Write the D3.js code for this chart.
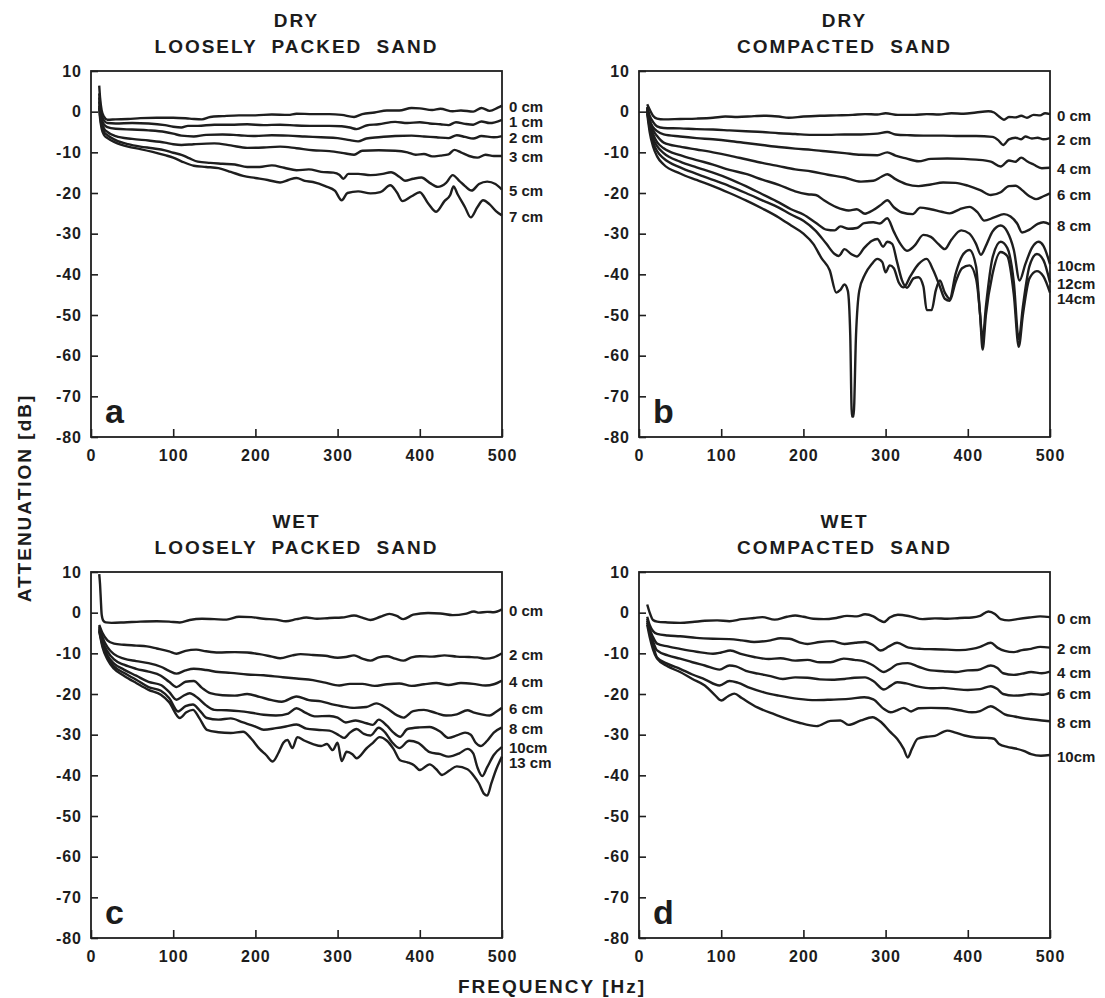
<!DOCTYPE html>
<html>
<head>
<meta charset="utf-8">
<script src="https://cdn.jsdelivr.net/npm/d3@7"></script>
<style>
    body { margin: 0; background: #fff; }
    svg text { font-family: "Liberation Sans", Arial, sans-serif; font-weight: bold; fill: #1c1c1c; }
</style>
</head>
<body>
<div id="content"></div>
<script>
// axis values
const freqTicks = [0, 100, 200, 300, 400, 500];
const dbTicks = [10, 0, -10, -20, -30, -40, -50, -60, -70, -80];

// a: dry, loosely packed sand  [frequency Hz, attenuation dB]
const dryLoose0 = [[10,6.4],[11,3.5],[13,0.3],[16,-1.3],[20,-2.0],[30,-1.9],[45,-1.8],[60,-1.6],[80,-1.5],[100,-1.5],[120,-1.7],[135,-1.9],[145,-1.3],[160,-1.1],[180,-0.9],[200,-0.9],[220,-0.7],[240,-0.8],[250,-0.5],[270,-0.6],[290,-0.6],[305,-0.8],[320,-1.3],[330,-0.6],[345,-0.2],[360,0.3],[375,0.3],[390,0.9],[400,0.8],[415,0.4],[425,0.7],[440,0.1],[450,0.3],[465,0.0],[475,0.9],[485,0.2],[495,1.0],[500,1.5]];
const dryLoose1 = [[10,4.5],[11,2],[13,-0.8],[16,-2.2],[20,-2.8],[30,-2.9],[50,-2.8],[70,-2.9],[90,-3.3],[100,-3.7],[110,-3.9],[118,-3.5],[130,-3.5],[150,-3.2],[170,-3.2],[190,-3.1],[210,-3.3],[230,-3.2],[250,-3.4],[270,-3.5],[290,-3.5],[305,-3.6],[315,-3.9],[323,-4.3],[335,-3.4],[350,-3.1],[370,-2.5],[385,-2.8],[400,-2.6],[412,-2.9],[425,-3.1],[435,-3.3],[444,-2.6],[455,-3.0],[465,-3.2],[475,-2.4],[485,-2.8],[500,-2.0]];
const dryLoose2 = [[10,3.5],[11,1],[13,-1.8],[16,-3.2],[20,-3.8],[30,-4.2],[50,-4.4],[70,-4.6],[90,-5.0],[100,-5.4],[110,-5.9],[125,-6.1],[140,-5.7],[160,-5.6],[180,-5.8],[200,-6.0],[220,-5.8],[240,-5.9],[260,-6.1],[280,-6.3],[300,-6.5],[315,-7.0],[325,-7.3],[335,-6.6],[350,-6.3],[370,-6.0],[390,-5.9],[405,-6.1],[420,-6.3],[435,-6.5],[445,-5.8],[455,-6.2],[465,-6.6],[475,-6.0],[490,-6.3],[500,-6.0]];
const dryLoose3 = [[10,2.5],[11,0],[13,-2.6],[16,-4.2],[20,-5.0],[30,-6.0],[50,-6.7],[70,-7.1],[90,-7.6],[100,-8.0],[110,-8.2],[125,-8.0],[150,-7.8],[170,-8.3],[190,-8.9],[210,-8.8],[230,-8.6],[250,-9.0],[270,-9.5],[290,-9.7],[310,-10.3],[320,-10.6],[330,-9.6],[350,-9.5],[370,-9.6],[385,-10.0],[395,-10.6],[405,-10.4],[415,-11.0],[425,-10.8],[435,-10.5],[442,-9.4],[450,-10.0],[460,-10.9],[470,-11.3],[480,-10.6],[490,-10.9],[500,-10.9]];
const dryLoose5 = [[10,1.5],[11,-1],[13,-3.5],[16,-5.0],[20,-5.8],[30,-7.0],[45,-8.0],[60,-8.6],[75,-9.0],[90,-9.5],[100,-10.1],[110,-10.6],[120,-11.5],[130,-12.3],[145,-12.6],[160,-12.8],[175,-13.0],[190,-13.6],[205,-13.6],[220,-13.2],[235,-13.8],[250,-14.4],[265,-14.2],[280,-14.8],[295,-15.0],[302,-15.5],[307,-16.5],[313,-15.3],[325,-15.3],[340,-15.6],[355,-15.3],[365,-14.9],[375,-16.0],[382,-17.0],[392,-16.5],[402,-16.2],[412,-17.5],[422,-18.5],[432,-17.5],[440,-15.6],[448,-17.0],[455,-18.3],[463,-19.4],[472,-17.8],[482,-17.2],[492,-17.8],[500,-19.2]];
const dryLoose7 = [[10,1],[11,-1.5],[13,-4.2],[16,-5.8],[20,-6.5],[30,-7.6],[45,-8.6],[60,-9.2],[75,-9.9],[90,-10.7],[100,-11.3],[110,-12.2],[125,-13.3],[140,-13.6],[155,-13.9],[170,-14.8],[185,-15.8],[200,-16.3],[215,-16.8],[230,-17.4],[240,-16.8],[250,-16.3],[260,-17.0],[270,-17.3],[285,-18.3],[297,-19.5],[305,-21.8],[312,-20.0],[325,-19.6],[340,-20.1],[352,-19.8],[364,-18.1],[372,-19.8],[379,-22.0],[390,-20.8],[400,-19.8],[410,-22.5],[420,-24.6],[430,-22.0],[437,-20.5],[441,-18.4],[446,-20.3],[455,-23.5],[462,-26.0],[470,-23.5],[477,-21.8],[485,-22.8],[493,-24.5],[500,-25.5]];
const dryLooseLabels = ["0 cm", "1 cm", "2 cm", "3 cm", "5 cm", "7 cm"];

// b: dry, compacted sand
const dryComp0 = [[10,1.8],[13,0.5],[17,-1],[22,-1.7],[30,-1.9],[50,-1.8],[70,-1.7],[90,-1.5],[105,-1.2],[120,-1.3],[140,-1.1],[155,-1.0],[170,-1.2],[182,-1.5],[200,-1.2],[220,-1.0],[240,-0.9],[260,-0.8],[275,-0.6],[290,-0.7],[300,-0.4],[315,-0.8],[335,-0.8],[350,-0.6],[365,-0.7],[380,-0.4],[395,-0.5],[410,-0.2],[425,0.1],[432,-0.2],[438,-1.2],[444,-2.0],[450,-1.3],[458,-1.4],[465,-1.0],[472,-1.5],[480,-0.8],[488,-0.9],[494,-0.4],[500,-0.6]];
const dryComp2 = [[10,1.2],[13,-1],[17,-2.5],[22,-3.6],[30,-4],[50,-4.1],[70,-4.3],[90,-4.4],[110,-4.6],[130,-4.8],[150,-5.0],[170,-5.3],[190,-5.5],[210,-5.7],[230,-5.7],[250,-5.6],[270,-5.6],[290,-5.4],[302,-5.0],[312,-5.6],[330,-5.8],[350,-5.9],[370,-5.9],[390,-6.0],[410,-6.0],[430,-6.2],[437,-7.0],[443,-8.2],[450,-6.8],[458,-6.4],[465,-6.8],[470,-6.1],[478,-6.6],[485,-6.4],[492,-6.8],[500,-6.5]];
const dryComp4 = [[10,1],[13,-2],[17,-3.8],[22,-4.8],[30,-5.6],[50,-6.1],[70,-6.5],[90,-6.8],[110,-7.2],[130,-7.7],[150,-8.2],[170,-8.7],[190,-9.1],[210,-9.4],[230,-9.8],[250,-10.2],[270,-10.6],[290,-10.7],[302,-10.0],[312,-10.8],[325,-11.5],[340,-12.2],[355,-11.6],[375,-11.5],[395,-11.6],[410,-11.8],[428,-12.3],[440,-13.5],[450,-12.0],[458,-12.3],[465,-11.3],[472,-12.2],[480,-13.0],[490,-13.9],[500,-13.8]];
const dryComp6 = [[10,0.8],[13,-2.5],[17,-4.5],[22,-6],[30,-7.6],[50,-8.6],[70,-9.3],[90,-10.0],[110,-10.8],[130,-11.7],[150,-12.6],[170,-13.4],[190,-14.2],[210,-14.7],[230,-15.5],[250,-16.2],[270,-17.2],[285,-17.0],[295,-16.0],[302,-15.4],[312,-16.6],[325,-17.8],[340,-18.3],[355,-17.9],[370,-17.4],[385,-17.5],[400,-18.2],[415,-19.3],[428,-20.5],[440,-19.8],[450,-18.3],[458,-18.2],[466,-19.3],[475,-20.8],[483,-21.5],[492,-20.8],[500,-20.1]];
const dryComp8 = [[10,0.5],[13,-3],[17,-5.5],[22,-7.5],[30,-9],[50,-10.7],[70,-11.9],[90,-13.0],[110,-14.3],[130,-15.3],[150,-16.7],[170,-18.0],[190,-19.6],[205,-20.3],[215,-20.5],[225,-21.8],[240,-23.5],[255,-24.3],[265,-24.0],[275,-25.1],[285,-24.2],[295,-22.8],[302,-21.8],[310,-23.5],[320,-24.8],[333,-25.2],[342,-23.6],[355,-24.0],[368,-24.6],[378,-25.0],[390,-24.0],[402,-23.4],[412,-24.8],[420,-26.8],[432,-26.0],[444,-25.2],[452,-25.8],[460,-27.5],[466,-29.7],[475,-29.0],[485,-27.6],[492,-27.2],[500,-27.7]];
const dryComp10 = [[10,0.3],[13,-3.5],[17,-6.5],[22,-8.5],[30,-10.2],[50,-12.3],[70,-13.7],[90,-15.0],[110,-16.5],[130,-18.3],[150,-20.3],[170,-22.3],[185,-24.0],[200,-25.3],[215,-27.3],[228,-29.0],[238,-29.2],[245,-28.2],[255,-28.8],[265,-28.6],[274,-27.4],[285,-27.2],[293,-27.5],[302,-26.2],[310,-29.5],[318,-32.5],[326,-34.2],[335,-33.0],[346,-30.3],[355,-30.8],[364,-32.5],[372,-33.8],[380,-31.5],[392,-29.2],[402,-30.0],[410,-32.5],[416,-35.2],[422,-33.0],[430,-29.5],[440,-28.0],[448,-29.5],[456,-34.0],[463,-41.5],[470,-37.5],[478,-33.5],[486,-32.0],[492,-33.0],[500,-37.5]];
const dryComp12 = [[10,0],[13,-4],[17,-7.5],[22,-9.7],[30,-11.5],[50,-13.7],[70,-15.3],[90,-16.8],[110,-18.3],[130,-20.0],[150,-21.8],[170,-23.6],[185,-25.3],[200,-26.8],[215,-29.3],[228,-32.5],[238,-35.0],[243,-35.5],[250,-33.8],[258,-35.0],[265,-35.6],[274,-33.5],[283,-31.8],[290,-31.3],[297,-33.2],[302,-32.0],[308,-32.5],[314,-37.0],[320,-41.5],[326,-43.3],[334,-41.0],[340,-40.7],[346,-43.0],[350,-48.8],[356,-48.8],[361,-44.0],[366,-41.5],[372,-44.5],[378,-46.0],[385,-40.0],[393,-35.5],[402,-34.0],[410,-38.0],[415,-50.0],[418,-56.0],[422,-48.0],[430,-36.0],[440,-32.0],[448,-33.5],[456,-42.0],[462,-56.0],[467,-48.0],[475,-38.0],[484,-35.0],[492,-36.5],[500,-42.0]];
const dryComp14 = [[10,-0.5],[13,-5],[17,-8.5],[22,-11],[30,-13],[50,-15.2],[70,-16.8],[90,-18.3],[110,-20.0],[130,-21.8],[150,-23.8],[170,-26.0],[185,-28.0],[200,-30.0],[212,-32.5],[222,-36.0],[232,-39.0],[240,-44.5],[245,-43.8],[250,-42.5],[254,-44.0],[257,-55.0],[259,-75.0],[261,-75.0],[264,-55.0],[268,-44.0],[275,-40.0],[283,-37.5],[290,-36.2],[296,-37.0],[300,-39.5],[305,-37.8],[310,-38.5],[316,-42.0],[322,-43.2],[330,-40.5],[340,-37.5],[350,-36.2],[358,-39.0],[366,-43.0],[372,-46.0],[378,-46.5],[385,-42.0],[393,-38.5],[402,-37.8],[410,-41.0],[415,-50.0],[418,-58.5],[422,-50.0],[430,-40.0],[440,-34.5],[448,-35.5],[456,-45.0],[462,-57.8],[467,-50.0],[475,-41.0],[484,-39.2],[492,-40.5],[500,-44.5]];
const dryCompLabels = ["0 cm", "2 cm", "4 cm", "6 cm", "8 cm", "10cm", "12cm", "14cm"];

// c: wet, loosely packed sand
const wetLoose0 = [[10,9.5],[11,7],[12,3],[13,-0.5],[15,-2.0],[18,-2.4],[25,-2.5],[40,-2.4],[60,-2.2],[80,-2.1],[95,-2.2],[108,-2.4],[120,-1.8],[135,-1.5],[150,-1.6],[165,-1.7],[180,-1.0],[195,-1.1],[210,-1.5],[225,-1.7],[237,-2.1],[250,-1.6],[262,-1.2],[275,-1.5],[290,-1.3],[305,-1.2],[320,-0.7],[330,-1.2],[340,-1.8],[352,-1.0],[363,-0.3],[372,-0.8],[380,-1.6],[392,-0.5],[410,-0.1],[425,-0.2],[440,-0.6],[455,-0.3],[466,0.3],[472,0.0],[482,0.2],[490,0.1],[500,0.8]];
const wetLoose2 = [[10,-3],[14,-5],[20,-6.8],[28,-7.6],[40,-7.9],[55,-8.1],[68,-8.3],[80,-8.8],[95,-9.5],[104,-10.1],[115,-9.4],[128,-9.1],[140,-9.5],[155,-9.8],[175,-9.7],[190,-9.8],[205,-10.2],[220,-10.8],[230,-11.2],[245,-10.5],[255,-10.2],[270,-10.4],[285,-10.6],[300,-11.1],[310,-10.9],[320,-10.5],[330,-11.3],[340,-11.8],[350,-11.0],[360,-10.7],[370,-11.3],[380,-11.8],[390,-11.0],[400,-10.7],[415,-10.8],[430,-10.5],[445,-10.8],[460,-10.9],[470,-11.0],[480,-11.3],[490,-11.0],[500,-10.0]];
const wetLoose4 = [[10,-3.3],[14,-6],[20,-8.5],[28,-10.2],[40,-11.3],[55,-11.9],[70,-12.4],[85,-13.3],[95,-14.3],[104,-15.0],[115,-14.2],[125,-13.8],[140,-14.1],[155,-14.6],[170,-14.8],[190,-15.2],[210,-15.4],[230,-15.8],[250,-16.2],[270,-16.6],[285,-17.2],[302,-17.9],[315,-17.5],[330,-17.5],[345,-18.0],[360,-17.6],[375,-17.4],[390,-18.0],[405,-17.6],[420,-17.3],[435,-17.8],[450,-17.3],[465,-17.5],[480,-17.9],[490,-17.6],[500,-16.7]];
const wetLoose6 = [[10,-3.6],[14,-7],[20,-9.5],[28,-11.5],[40,-12.8],[55,-13.8],[70,-14.5],[85,-15.5],[95,-17.0],[104,-18.3],[115,-17.0],[125,-16.8],[135,-18.5],[145,-19.8],[160,-20.3],[175,-20.4],[190,-20.0],[205,-20.7],[220,-21.5],[232,-21.9],[250,-20.6],[265,-21.5],[280,-21.8],[295,-22.6],[305,-23.0],[320,-23.4],[335,-23.2],[347,-22.3],[360,-23.5],[372,-25.2],[380,-25.8],[392,-24.2],[405,-23.9],[420,-24.7],[432,-25.3],[445,-25.0],[458,-24.0],[465,-24.5],[475,-25.0],[485,-25.3],[492,-24.5],[500,-23.4]];
const wetLoose8 = [[10,-4],[14,-7.5],[20,-10.5],[28,-12.5],[40,-14.0],[55,-15.5],[70,-17.0],[85,-17.8],[95,-19.5],[104,-21.4],[112,-20.5],[120,-19.8],[130,-21.0],[140,-22.8],[150,-23.9],[165,-24.0],[180,-24.2],[195,-24.6],[210,-25.1],[225,-25.3],[240,-24.8],[250,-23.5],[260,-24.5],[272,-25.5],[290,-25.4],[300,-25.8],[310,-27.0],[322,-26.5],[335,-27.2],[343,-27.6],[350,-26.3],[360,-27.8],[368,-29.5],[376,-30.5],[385,-28.6],[400,-28.2],[412,-28.1],[425,-29.3],[435,-30.8],[445,-30.2],[455,-29.5],[462,-30.0],[468,-32.0],[474,-32.8],[482,-31.5],[490,-29.5],[500,-28.2]];
const wetLoose10 = [[10,-4.3],[14,-8],[20,-11],[28,-13.2],[40,-14.8],[55,-16.5],[70,-18.3],[85,-19.2],[95,-21.0],[106,-24.3],[115,-23.0],[124,-22.6],[132,-24.0],[141,-25.9],[155,-26.3],[170,-26.0],[185,-27.0],[200,-28.0],[210,-28.8],[225,-28.4],[237,-28.0],[250,-27.5],[262,-28.5],[275,-28.8],[290,-29.0],[302,-30.2],[308,-30.8],[315,-29.5],[323,-28.6],[332,-29.8],[340,-30.2],[350,-28.3],[358,-29.5],[366,-31.8],[375,-33.3],[387,-31.5],[398,-32.0],[412,-34.3],[425,-34.8],[435,-35.4],[448,-34.6],[458,-33.5],[465,-34.6],[470,-38.0],[476,-40.2],[482,-38.0],[490,-35.0],[500,-33.0]];
const wetLoose13 = [[10,-4.6],[14,-8.5],[20,-11.5],[28,-13.8],[40,-15.5],[55,-17.3],[70,-19.0],[85,-20.2],[95,-22.0],[108,-25.9],[116,-24.5],[124,-23.9],[132,-26.0],[141,-28.8],[155,-29.4],[170,-29.6],[185,-29.3],[195,-31.0],[205,-33.5],[213,-35.0],[221,-36.6],[228,-34.5],[234,-32.0],[239,-31.3],[245,-33.3],[251,-30.6],[260,-31.5],[270,-32.3],[280,-32.8],[287,-32.3],[294,-33.8],[300,-32.0],[305,-36.5],[311,-34.2],[318,-34.8],[323,-35.8],[335,-33.4],[343,-32.0],[351,-30.6],[360,-31.5],[368,-33.5],[376,-36.3],[385,-36.8],[393,-37.5],[400,-38.7],[412,-37.3],[420,-38.5],[427,-39.9],[436,-38.8],[445,-37.8],[458,-38.5],[466,-40.2],[472,-42.0],[478,-44.5],[482,-45.0],[487,-42.0],[493,-38.5],[500,-35.4]];
const wetLooseLabels = ["0 cm", "2 cm", "4 cm", "6 cm", "8 cm", "10cm", "13 cm"];

// d: wet, compacted sand
const wetComp0 = [[10,2],[13,0],[17,-1.8],[22,-2.2],[35,-2.4],[50,-2.5],[65,-2.3],[80,-2.0],[95,-1.9],[110,-2.1],[125,-1.6],[140,-1.3],[150,-1.1],[165,-1.7],[180,-1.0],[190,-0.7],[200,-1.0],[212,-1.5],[225,-1.6],[240,-1.3],[253,-0.8],[265,-0.9],[275,-0.4],[285,-0.9],[293,-1.9],[298,-2.3],[305,-1.2],[315,-0.5],[330,-0.9],[345,-1.6],[360,-1.4],[375,-1.5],[390,-1.3],[405,-1.2],[415,-0.8],[425,0.3],[433,-0.3],[440,-1.6],[450,-1.9],[460,-1.6],[475,-1.2],[488,-0.9],[500,-1.1]];
const wetComp2 = [[10,-1],[13,-3],[17,-4.5],[22,-5.2],[35,-5.6],[50,-5.8],[70,-6.2],[90,-6.4],[110,-6.5],[125,-6.8],[140,-7.2],[160,-6.8],[172,-6.3],[183,-6.4],[195,-7.3],[205,-7.7],[220,-7.2],[235,-7.0],[250,-7.7],[263,-7.4],[275,-7.2],[285,-8.0],[294,-9.3],[304,-8.3],[314,-7.4],[328,-8.6],[343,-8.9],[360,-9.0],[375,-9.1],[390,-9.2],[405,-8.9],[415,-8.4],[428,-7.4],[436,-8.6],[445,-9.4],[456,-9.7],[466,-9.2],[477,-8.9],[488,-8.4],[500,-8.6]];
const wetComp4 = [[10,-1.5],[13,-4],[17,-6],[22,-7.6],[35,-8.3],[50,-8.9],[70,-9.6],[90,-10.1],[100,-9.8],[111,-9.3],[125,-10.2],[140,-10.9],[158,-11.4],[172,-11.2],[190,-11.8],[205,-11.6],[220,-12.2],[233,-12.2],[249,-11.3],[262,-11.6],[274,-12.0],[285,-13.0],[298,-14.6],[306,-13.8],[314,-12.7],[327,-12.4],[340,-13.3],[355,-14.2],[370,-14.4],[385,-14.6],[400,-14.2],[412,-14.1],[428,-13.0],[436,-13.6],[443,-14.9],[456,-15.3],[466,-15.0],[477,-14.6],[490,-14.9],[500,-14.5]];
const wetComp6 = [[10,-2],[13,-4.5],[17,-7],[22,-9.3],[35,-10.5],[50,-11.3],[65,-12.2],[80,-13.0],[98,-14.0],[110,-13.0],[118,-13.2],[130,-14.3],[145,-15.0],[160,-15.6],[175,-16.3],[190,-15.9],[205,-16.0],[220,-16.4],[235,-16.5],[250,-16.3],[262,-16.0],[275,-15.9],[285,-16.8],[298,-18.9],[306,-18.0],[314,-17.1],[325,-17.4],[340,-18.2],[355,-18.6],[370,-18.5],[385,-18.8],[400,-19.0],[415,-18.8],[428,-18.1],[436,-18.8],[443,-20.0],[456,-20.4],[466,-20.3],[477,-20.0],[490,-20.2],[500,-19.7]];
const wetComp8 = [[10,-2.5],[13,-5],[17,-8],[22,-11],[35,-12.6],[50,-13.8],[65,-15.2],[80,-16.4],[98,-17.9],[110,-16.8],[120,-17.2],[135,-18.5],[152,-19.6],[170,-20.4],[194,-21.2],[215,-21.5],[233,-21.4],[255,-21.2],[274,-20.8],[285,-21.3],[298,-23.7],[306,-24.5],[314,-24.0],[322,-23.4],[331,-24.3],[340,-23.5],[355,-23.4],[375,-23.5],[390,-24.0],[405,-24.5],[415,-24.2],[428,-23.0],[436,-23.8],[445,-25.0],[456,-25.5],[466,-25.9],[477,-26.2],[490,-26.5],[500,-26.7]];
const wetComp10 = [[10,-3],[13,-6],[17,-9],[22,-11.3],[35,-13.2],[50,-14.6],[65,-16.3],[80,-17.9],[92,-20.2],[100,-21.6],[108,-20.6],[116,-19.9],[125,-21.0],[144,-23.3],[165,-25.0],[194,-27.0],[216,-27.9],[233,-26.6],[245,-26.5],[255,-27.6],[270,-26.5],[284,-25.7],[295,-27.0],[305,-29.2],[314,-31.0],[322,-33.5],[327,-35.6],[332,-33.5],[339,-31.0],[350,-30.5],[360,-30.3],[375,-29.0],[385,-29.5],[396,-30.2],[410,-30.7],[424,-30.8],[432,-31.0],[438,-32.3],[448,-33.0],[458,-33.4],[468,-34.0],[477,-34.8],[489,-35.2],[500,-35.0]];
const wetCompLabels = ["0 cm", "2 cm", "4 cm", "6 cm", "8 cm", "10cm"];

const panels = [
    { left: 91, top: 71, title: ["DRY", "LOOSELY PACKED SAND"], letter: "a",
      series: [dryLoose0, dryLoose1, dryLoose2, dryLoose3, dryLoose5, dryLoose7], labels: dryLooseLabels },
    { left: 639, top: 71, title: ["DRY", "COMPACTED SAND"], letter: "b",
      series: [dryComp0, dryComp2, dryComp4, dryComp6, dryComp8, dryComp10, dryComp12, dryComp14], labels: dryCompLabels },
    { left: 91, top: 572, title: ["WET", "LOOSELY PACKED SAND"], letter: "c",
      series: [wetLoose0, wetLoose2, wetLoose4, wetLoose6, wetLoose8, wetLoose10, wetLoose13], labels: wetLooseLabels },
    { left: 639, top: 572, title: ["WET", "COMPACTED SAND"], letter: "d",
      series: [wetComp0, wetComp2, wetComp4, wetComp6, wetComp8, wetComp10], labels: wetCompLabels }
];
const plotW = 411, plotH = 366;
const ink = "#1e1e1e";

const svg = d3.select("#content")
    .append("svg")
    .attr("width", 1105)
    .attr("height", 998);

const fmt = d => d < 0 ? "-" + Math.abs(d) : String(d);

panels.forEach(function (p) {
    const x = d3.scaleLinear().domain([0, 500]).range([p.left, p.left + plotW]);
    const y = d3.scaleLinear().domain([-80, 10]).range([p.top + plotH, p.top]);
    const g = svg.append("g");

    const line = d3.line()
        .x(d => x(d[0]))
        .y(d => y(d[1]))
        .curve(d3.curveMonotoneX);

    g.selectAll("path.curve")
        .data(p.series)
        .enter()
        .append("path")
        .attr("class", "curve")
        .attr("d", line)
        .attr("fill", "none")
        .attr("stroke", ink)
        .attr("stroke-width", 2.4)
        .attr("stroke-linejoin", "round");

    g.append("rect")
        .attr("x", p.left)
        .attr("y", p.top)
        .attr("width", plotW)
        .attr("height", plotH)
        .attr("fill", "none")
        .attr("stroke", ink)
        .attr("stroke-width", 1.8);

    const yAxis = g.append("g")
        .attr("transform", "translate(" + p.left + ",0)")
        .call(d3.axisLeft(y).tickValues(dbTicks).tickSize(-7).tickPadding(9).tickFormat(fmt));
    const xAxis = g.append("g")
        .attr("transform", "translate(0," + (p.top + plotH) + ")")
        .call(d3.axisBottom(x).tickValues(freqTicks).tickSize(-8).tickPadding(13).tickFormat(fmt));

    [yAxis, xAxis].forEach(function (a) {
        a.select(".domain").remove();
        a.selectAll(".tick line").attr("stroke", ink).attr("stroke-width", 1.6);
        a.selectAll(".tick text")
            .style("font-size", "16px")
            .style("letter-spacing", "1px");
    });

    // titles above each panel
    const cx = p.left + plotW / 2;
    g.append("text").attr("x", cx).attr("y", p.top - 44)
        .attr("text-anchor", "middle")
        .style("font-size", "19px").style("letter-spacing", "2px")
        .text(p.title[0]);
    g.append("text").attr("x", cx).attr("y", p.top - 18)
        .attr("text-anchor", "middle")
        .style("font-size", "19px").style("letter-spacing", "2px").style("word-spacing", "7px")
        .text(p.title[1]);

    // panel letter
    g.append("text").attr("x", p.left + 14).attr("y", p.top + plotH - 14)
        .style("font-size", "34px")
        .text(p.letter);

    // series labels at the right end, pushed apart where crowded
    const ys = p.series.map(s => y(s[s.length - 1][1]) + 1);
    for (let i = 1; i < ys.length; ++i) {
        if (ys[i] < ys[i - 1] + 15) ys[i] = ys[i - 1] + 15;
    }
    g.selectAll("text.lab")
        .data(p.labels)
        .enter()
        .append("text")
        .attr("class", "lab")
        .attr("x", p.left + plotW + 7)
        .attr("y", (d, i) => ys[i])
        .attr("dominant-baseline", "central")
        .style("font-size", "15px")
        .text(d => d);
});

svg.append("text")
    .attr("transform", "translate(24,498) rotate(-90)")
    .attr("text-anchor", "middle")
    .attr("dominant-baseline", "central")
    .style("font-size", "19px").style("letter-spacing", "2px")
    .text("ATTENUATION [dB]");

svg.append("text")
    .attr("x", 552)
    .attr("y", 993)
    .attr("text-anchor", "middle")
    .style("font-size", "19px").style("letter-spacing", "2px")
    .text("FREQUENCY [Hz]");
</script>
</body>
</html>
